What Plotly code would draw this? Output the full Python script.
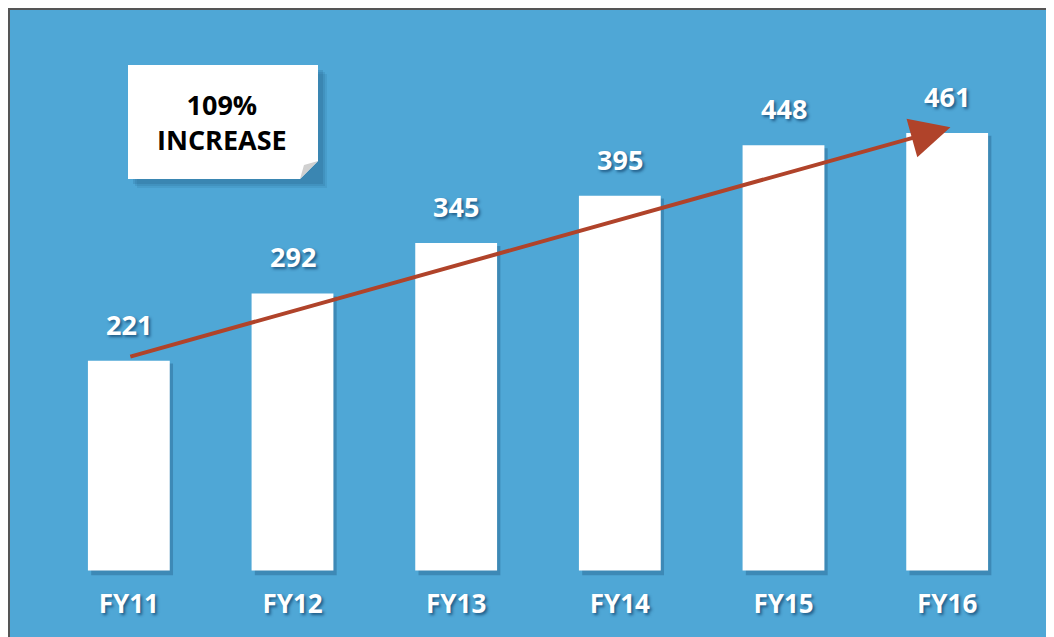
import plotly.graph_objects as go

categories = ["FY11", "FY12", "FY13", "FY14", "FY15", "FY16"]
values = [221, 292, 345, 395, 448, 461]
note_text = "109%<br>INCREASE"

W, H = 1054, 637
OFF = 8  # page body margin
L, T, PW, PH = 39, 88, 982, 484
R, B = W - L - PW, H - T - PH
BLUE = "#4FA7D6"

def px(x):
    return (x - OFF - L) / PW

def py(y):
    return (T + PH - (y - OFF)) / PH

fig = go.Figure()

# bar shadows
fig.add_trace(go.Bar(
    x=categories, y=[v + 2 for v in values], base=-5,
    width=0.5, offset=-0.23,
    marker=dict(color="rgba(20,70,110,0.3)", line=dict(width=0)),
    hoverinfo="skip", showlegend=False,
))
fig.add_trace(go.Bar(
    x=categories, y=values,
    width=0.5, offset=-0.25,
    marker=dict(color="white", line=dict(width=0)),
    showlegend=False,
))
fig.update_layout(barmode="overlay")

shadow = "2px 2px 3px rgba(0,40,80,0.6)"
for c, v in zip(categories, values):
    fig.add_annotation(
        x=c, y=v, text=f"<b>{v}</b>", showarrow=False,
        yanchor="bottom", yshift=16,
        font=dict(family="Open Sans", size=27, color="white", shadow=shadow),
    )

# trend arrow
fig.add_annotation(
    x=5.02, y=467, ax=0, ay=225,
    xref="x", yref="y", axref="x", ayref="y",
    text="", showarrow=True,
    arrowhead=2, arrowsize=2.0, arrowwidth=4, arrowcolor="#B0432A",
)

shapes = []
# background panel
shapes.append(dict(type="rect", xref="paper", yref="paper",
                   x0=px(9), x1=px(1080), y0=py(660), y1=py(9),
                   fillcolor=BLUE, line=dict(color="#555555", width=2), layer="below"))
# note box shadow (soft)
for d, a in [(9, 0.10), (7, 0.12), (5, 0.15)]:
    shapes.append(dict(type="rect", xref="paper", yref="paper",
                       x0=px(128 + d), x1=px(318 + d), y0=py(179 + d), y1=py(65 + d),
                       fillcolor=f"rgba(20,70,110,{a})", line=dict(width=0), layer="above"))
# note box with folded corner
path = (f"M{px(128)},{py(65)} L{px(318)},{py(65)} L{px(318)},{py(161)} "
        f"L{px(300)},{py(179)} L{px(128)},{py(179)} Z")
shapes.append(dict(type="path", xref="paper", yref="paper", path=path,
                   fillcolor="white", line=dict(width=0), layer="above"))
fold = f"M{px(318)},{py(161)} L{px(300)},{py(179)} L{px(304)},{py(165)} Z"
shapes.append(dict(type="path", xref="paper", yref="paper", path=fold,
                   fillcolor="#D0D0D0", line=dict(width=0), layer="above"))

fig.add_annotation(
    xref="paper", yref="paper", x=px(222), y=py(122), text=f"<b>{note_text}</b>",
    showarrow=False, align="center", xanchor="center", yanchor="middle",
    font=dict(family="Open Sans", size=27, color="black"),
)

fig.update_layout(
    width=W, height=H,
    margin=dict(l=L, r=R, t=T, b=B),
    paper_bgcolor="white", plot_bgcolor="rgba(0,0,0,0)",
    shapes=shapes,
    bargap=0.5,
    xaxis=dict(
        showgrid=False, zeroline=False, showline=False, ticks="",
        tickfont=dict(family="Open Sans", size=26, color="white", shadow=shadow, weight="bold"),
        ticklabelstandoff=6,
    ),
    yaxis=dict(range=[-10, 500], visible=False),
)
fig.update_traces(cliponaxis=False)

fig.write_html("out.html")
